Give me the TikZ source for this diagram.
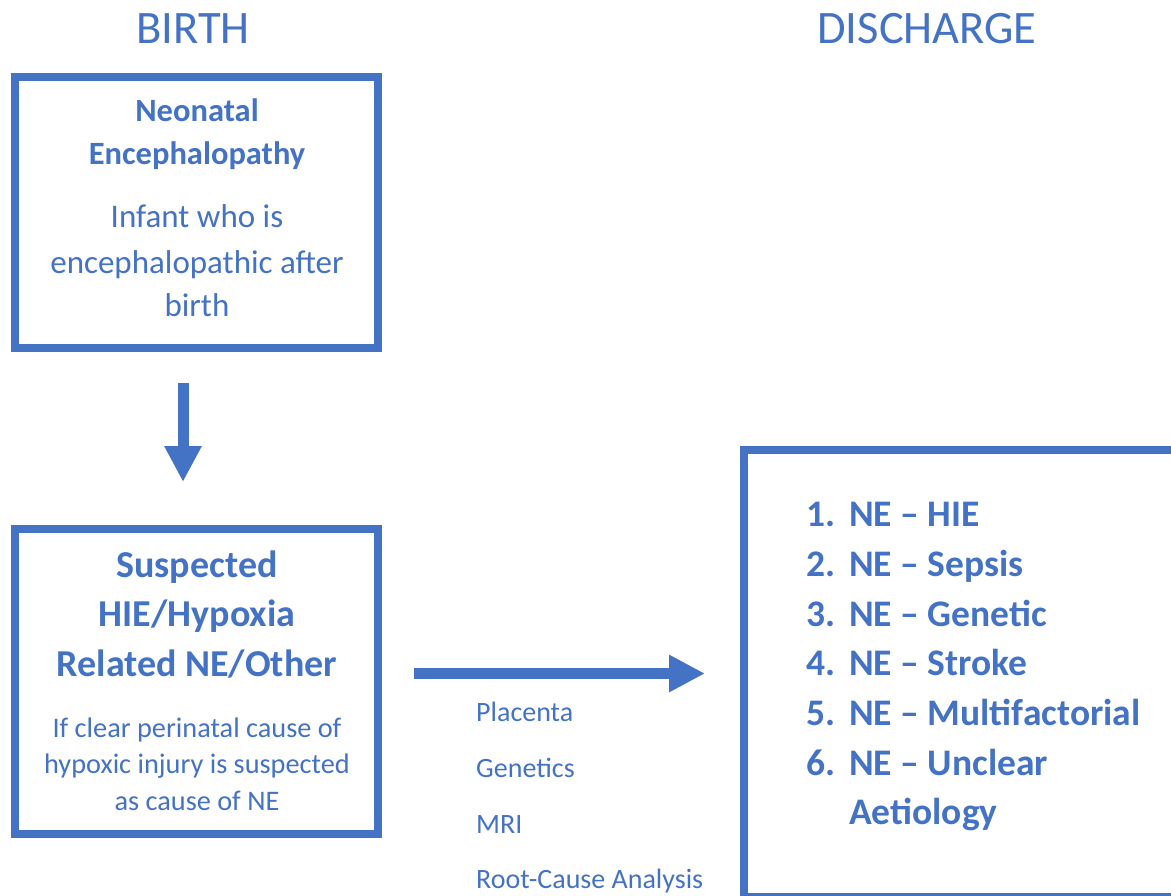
\documentclass[tikz,border=0pt]{standalone}
\usepackage{fontspec}
\setmainfont{Carlito}
\usetikzlibrary{arrows.meta}
\definecolor{nblue}{HTML}{4472C4}
\definecolor{tblue}{HTML}{4472C4}
\tikzset{
  box/.style={draw=nblue, line width=8pt, inner sep=0pt, rectangle},
  bigarrow/.style={draw=nblue, line width=11pt, -{Triangle[length=36pt,width=35pt]}},
  txt/.style={text=tblue, inner sep=0pt, anchor=base},
  lbl/.style={text=tblue, inner sep=0pt, anchor=base west, font=\fontsize{28}{33}\selectfont},
  head/.style={txt, font=\fontsize{46.5}{56}\selectfont},
  b1bold/.style={txt, font=\fontsize{32.5}{39}\selectfont\bfseries},
  b1reg/.style={txt, font=\fontsize{33}{40}\selectfont},
  b2bold/.style={txt, font=\fontsize{38}{46}\selectfont\bfseries},
  b2reg/.style={txt, font=\fontsize{28.3}{34}\selectfont},
  litem/.style={text=tblue, inner sep=0pt, anchor=base west, font=\fontsize{37.5}{45}\selectfont\bfseries}
}
\begin{document}
\begin{tikzpicture}[x=1pt,y=-1pt]
\useasboundingbox (0,0) rectangle (1171,896);
\clip (0,0) rectangle (1171,896);
\fill[white] (0,0) rectangle (1171,896);
% headers
\node[head] (hbirth) at (193,44) {BIRTH};
\node[head] (hdis) at (927,44) {DISCHARGE};
% boxes
\node[box, minimum width=363pt, minimum height=271pt] (box1) at (196.5,212.5) {};
\node[box, minimum width=363pt, minimum height=305pt] (box2) at (196.5,681.5) {};
\node[box, minimum width=432.5pt, minimum height=447pt] (box3) at (959.75,673.5) {};
% box1 text
\node[b1bold] (t11) at (197,121.5) {Neonatal};
\node[b1bold] (t12) at (197,164.5) {Encephalopathy};
\node[b1reg] (t13) at (197,228) {Infant who is};
\node[b1reg] (t14) at (197,274) {encephalopathic after};
\node[b1reg] (t15) at (197,317) {birth};
% box2 text
\node[b2bold] (t21) at (197,577) {Suspected};
\node[b2bold] (t22) at (197,626) {HIE/Hypoxia};
\node[b2bold] (t23) at (197,676) {Related NE/Other};
\node[b2reg] (t24) at (197,737) {If clear perinatal cause of};
\node[b2reg] (t25) at (197,773) {hypoxic injury is suspected};
\node[b2reg] (t26) at (197,810) {as cause of NE};
% list
\foreach \n/\t/\y in {1/HIE/526, 2/Sepsis/576, 3/Genetic/626, 4/Stroke/675, 5/Multifactorial/725, 6/Unclear/775}{
  \node[litem] (num\n) at (806,\y) {\n.};
  \node[litem] (item\n) at (849,\y) {NE -- \t};
}
\node[litem] (item7) at (849,824) {Aetiology};
% labels
\node[lbl] (l1) at (476,721) {Placenta};
\node[lbl] (l2) at (476,777) {Genetics};
\node[lbl] (l3) at (476,833) {MRI};
\node[lbl] (l4) at (476,888) {Root-Cause Analysis};
% arrows
\draw[bigarrow, shorten <=31pt, shorten >=43pt] ([xshift=-13.5pt]box1.south) -- ([xshift=-13.5pt]box2.north);
\draw[bigarrow, shorten <=32pt, shorten >=34.5pt] (box2.east |- box3.west) -- (box3.west);
\end{tikzpicture}
\end{document}
